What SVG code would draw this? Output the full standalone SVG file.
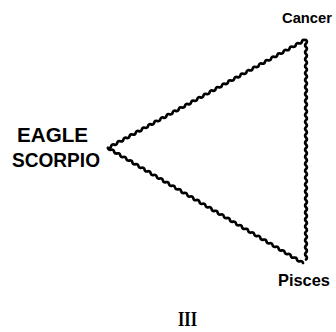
<svg xmlns="http://www.w3.org/2000/svg" width="336" height="332" viewBox="0 0 336 332">
<style>
.edge{fill:none;stroke:#000;stroke-width:2.7;stroke-linejoin:round;stroke-linecap:round}
.lbl{font-family:"Liberation Sans",Arial,sans-serif;font-weight:bold;fill:#000}
</style>
<rect width="336" height="332" fill="#fff"/>
<g id="connectors">
<path class="edge" d="M108 148q2.405 .735 3.078-1.688t3.078-1.688 3.078-1.688 3.078-1.688 3.078-1.688 3.078-1.688 3.078-1.688 3.078-1.688 3.078-1.688 3.078-1.688 3.078-1.688 3.078-1.688 3.078-1.688 3.078-1.688 3.078-1.688 3.078-1.688 3.078-1.688 3.078-1.688 3.078-1.688 3.078-1.688 3.078-1.688 3.078-1.688 3.078-1.688 3.078-1.688 3.078-1.688 3.078-1.688 3.078-1.688 3.078-1.688 3.078-1.688 3.078-1.688 3.078-1.688 3.078-1.688 3.078-1.688 3.078-1.688 3.078-1.688 3.078-1.688 3.078-1.688 3.078-1.688 3.078-1.688 3.078-1.688 3.078-1.688 3.078-1.688 3.078-1.688 3.078-1.688 3.078-1.688 3.078-1.688 3.078-1.688 3.078-1.688 3.078-1.688 3.078-1.688 3.078-1.688 3.078-1.688 3.078-1.688 3.078-1.688 3.078-1.688 3.078-1.688 3.078-1.688 3.078-1.688 3.078-1.688 3.078-1.688 3.078-1.688 3.078-1.688 3.078-1.688 3.078-1.688"/>
<path class="edge" d="M108 148q.609 2.448 3.047 1.797t3.047 1.797 3.047 1.797 3.047 1.797 3.047 1.797 3.047 1.797 3.047 1.797 3.047 1.797 3.047 1.797 3.047 1.797 3.047 1.797 3.047 1.797 3.047 1.797 3.047 1.797 3.047 1.797 3.047 1.797 3.047 1.797 3.047 1.797 3.047 1.797 3.047 1.797 3.047 1.797 3.047 1.797 3.047 1.797 3.047 1.797 3.047 1.797 3.047 1.797 3.047 1.797 3.047 1.797 3.047 1.797 3.047 1.797 3.047 1.797 3.047 1.797 3.047 1.797 3.047 1.797 3.047 1.797 3.047 1.797 3.047 1.797 3.047 1.797 3.047 1.797 3.047 1.797 3.047 1.797 3.047 1.797 3.047 1.797 3.047 1.797 3.047 1.797 3.047 1.797 3.047 1.797 3.047 1.797 3.047 1.797 3.047 1.797 3.047 1.797 3.047 1.797 3.047 1.797 3.047 1.797 3.047 1.797 3.047 1.797 3.047 1.797 3.047 1.797 3.047 1.797 3.047 1.797 3.047 1.797 3.047 1.797 3.047 1.797 3.047 1.797"/>
<path class="edge" d="M306 40q1.8 1.742 0 3.484t0 3.484 0 3.484 0 3.484 0 3.484 0 3.484 0 3.484 0 3.484 0 3.484 0 3.484 0 3.484 0 3.484 0 3.484 0 3.484 0 3.484 0 3.484 0 3.484 0 3.484 0 3.484 0 3.484 0 3.484 0 3.484 0 3.484 0 3.484 0 3.484 0 3.484 0 3.484 0 3.484 0 3.484 0 3.484 0 3.484 0 3.484 0 3.484 0 3.484 0 3.484 0 3.484 0 3.484 0 3.484 0 3.484 0 3.484 0 3.484 0 3.484 0 3.484 0 3.484 0 3.484 0 3.484 0 3.484 0 3.484 0 3.484 0 3.484 0 3.484 0 3.484 0 3.484 0 3.484 0 3.484 0 3.484 0 3.484 0 3.484 0 3.484 0 3.484 0 3.484 0 3.484 0 3.484"/>
</g>
<g id="node-eagle-scorpio">
<text class="lbl" x="17" y="142" font-size="20" textLength="71" lengthAdjust="spacingAndGlyphs">EAGLE</text>
<text class="lbl" x="12" y="167" font-size="20" textLength="88" lengthAdjust="spacingAndGlyphs">SCORPIO</text>
</g>
<g id="node-cancer">
<text class="lbl" x="282" y="23" font-size="14" textLength="50" lengthAdjust="spacingAndGlyphs">Cancer</text>
</g>
<g id="node-pisces">
<text class="lbl" x="278" y="286" font-size="17" textLength="52" lengthAdjust="spacingAndGlyphs">Pisces</text>
</g>
<text x="178" y="326" font-family="'Liberation Serif','Times New Roman',serif" font-weight="bold" font-size="20" textLength="19" lengthAdjust="spacingAndGlyphs">III</text>
</svg>
